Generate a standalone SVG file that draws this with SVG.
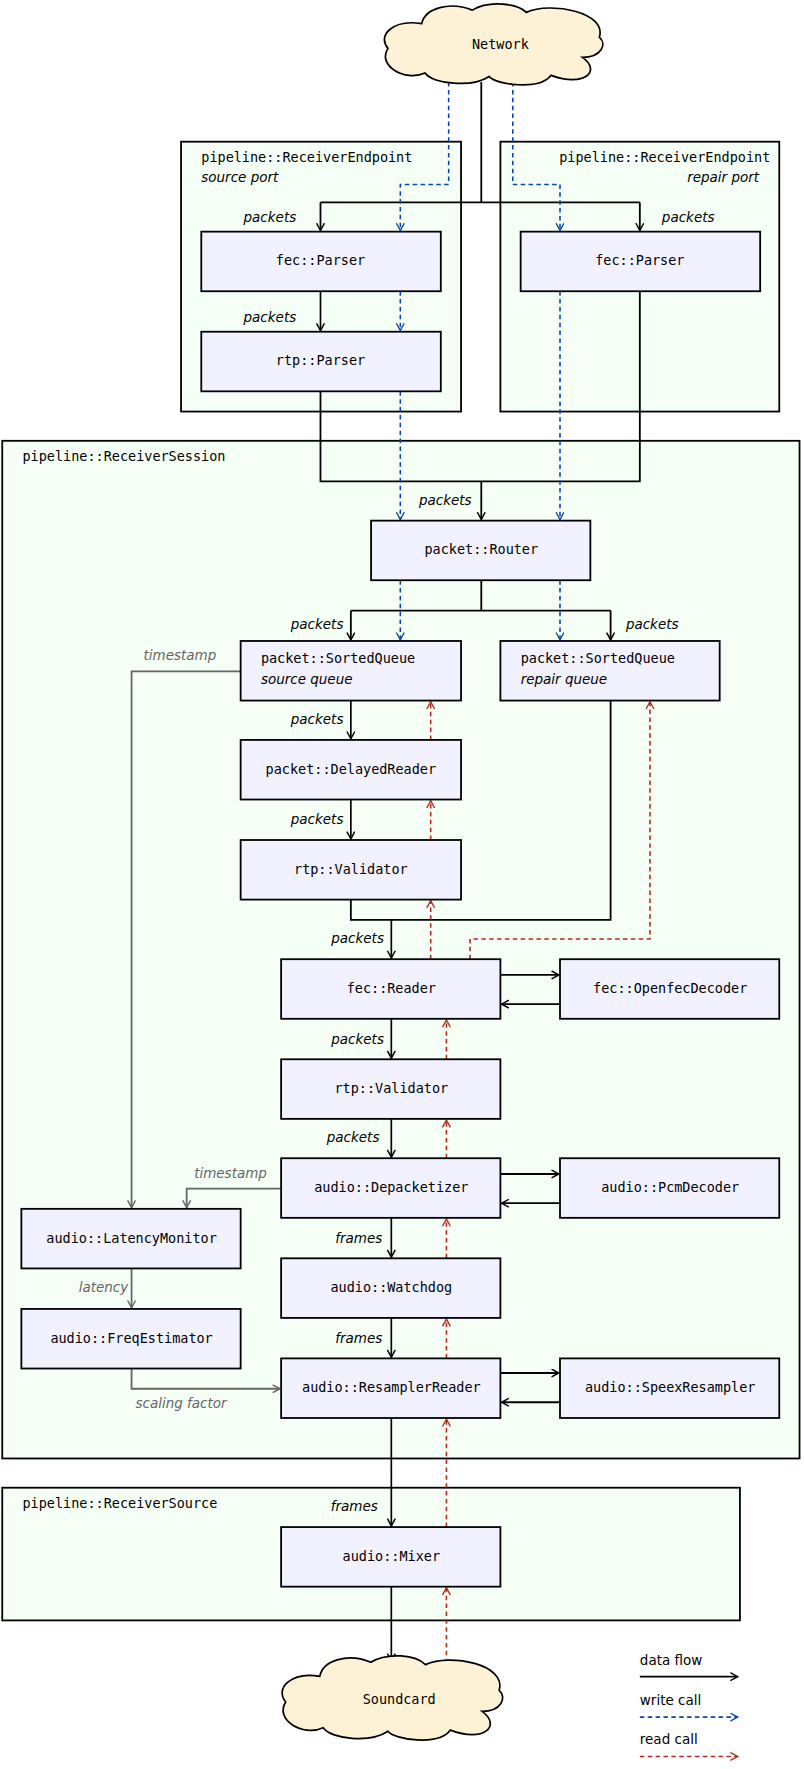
<svg xmlns="http://www.w3.org/2000/svg" width="804" height="1769" viewBox="0 0 804 1769">
<style>
.bg{fill:#fff}
.ct{fill:#f6fff6;stroke:#000;stroke-width:1.6}
.nd{fill:#f1f1ff;stroke:#000;stroke-width:1.6}
.cl{fill:#fdf2d6;stroke:#000;stroke-width:1.5}
.t{font-family:"DejaVu Sans Mono",monospace;font-size:12px;fill:#000}
.tc{text-anchor:middle}
.i{font-family:"DejaVu Sans",sans-serif;font-style:italic;font-size:12px;fill:#000}
.g{fill:#666}
.lg{font-family:"DejaVu Sans",sans-serif;font-size:12px;fill:#000}
.df{fill:none;stroke:#000;stroke-width:1.5}
.df2{fill:none;stroke:#000;stroke-width:1.6}
.gr{fill:none;stroke:#666;stroke-width:1.6}
.wc{fill:none;stroke:#0a47a6;stroke-width:1.4;stroke-dasharray:4,3}
.rc{fill:none;stroke:#b22a1c;stroke-width:1.4;stroke-dasharray:4,3}
</style>
<defs>
<marker id="ab" markerWidth="10" markerHeight="10" refX="7" refY="4" orient="auto" markerUnits="userSpaceOnUse"><path d="M0.5,0.5 L7,4 L0.5,7.5" fill="none" stroke="#000" stroke-width="1.3"/></marker>
<marker id="ag" markerWidth="10" markerHeight="10" refX="7" refY="4" orient="auto" markerUnits="userSpaceOnUse"><path d="M0.5,0.5 L7,4 L0.5,7.5" fill="none" stroke="#666" stroke-width="1.3"/></marker>
<marker id="aw" markerWidth="10" markerHeight="10" refX="7" refY="4" orient="auto" markerUnits="userSpaceOnUse"><path d="M0.5,0.5 L7,4 L0.5,7.5" fill="none" stroke="#0a47a6" stroke-width="1.2"/></marker>
<marker id="ar" markerWidth="10" markerHeight="10" refX="7" refY="4" orient="auto" markerUnits="userSpaceOnUse"><path d="M0.5,0.5 L7,4 L0.5,7.5" fill="none" stroke="#b22a1c" stroke-width="1.2"/></marker>
<path id="cloud" d="M38,62 C20,70 -5,55 5,40 C-5,28 10,14 35,18 C38,4 60,-2 80,6 C95,-3 120,0 128,8 C150,-2 200,8 193,30 C200,36 195,48 178,48 C195,60 180,75 150,64 C140,78 100,72 95,65 C80,75 45,72 38,62 Z"/>
</defs>
<rect class="bg" width="804" height="1769"/>
<g transform="scale(1.1245)">
<g id="containers">
<rect class="ct" x="161" y="126" width="249" height="240"/>
<text class="t" x="179" y="144">pipeline::ReceiverEndpoint</text>
<text class="i" x="179" y="162">source port</text>
<rect class="ct" x="445" y="126" width="248" height="240"/>
<text class="t" x="685" y="144" text-anchor="end">pipeline::ReceiverEndpoint</text>
<text class="i" x="675" y="162" text-anchor="end">repair port</text>
<rect class="ct" x="2" y="392" width="709" height="905"/>
<text class="t" x="20" y="410">pipeline::ReceiverSession</text>
<rect class="ct" x="2" y="1323" width="656" height="118"/>
<text class="t" x="20" y="1341">pipeline::ReceiverSource</text>
</g>
<g id="connectors">
<path class="df2" d="M428,73 V180 M285,180 H569"/>
<path class="df2" d="M285,180 V205" marker-end="url(#ab)"/>
<path class="df2" d="M569,180 V205" marker-end="url(#ab)"/>
<path class="wc" d="M399,73 V164 H356 V205" marker-end="url(#aw)"/>
<path class="wc" d="M456,73 V164 H498 V205" marker-end="url(#aw)"/>
<path class="df" d="M285,259 V294" marker-end="url(#ab)"/>
<path class="wc" d="M356,259 V294" marker-end="url(#aw)"/>
<path class="df2" d="M285,348 V428 H569 V259"/>
<path class="df2" d="M428,428 V462" marker-end="url(#ab)"/>
<path class="wc" d="M356,348 V462" marker-end="url(#aw)"/>
<path class="wc" d="M498,259 V462" marker-end="url(#aw)"/>
<path class="df2" d="M428,516 V543 M312,543 H543"/>
<path class="df2" d="M312,543 V569" marker-end="url(#ab)"/>
<path class="df2" d="M543,543 V569" marker-end="url(#ab)"/>
<path class="wc" d="M356,516 V569" marker-end="url(#aw)"/>
<path class="wc" d="M498,516 V569" marker-end="url(#aw)"/>
<path class="df" d="M312,623 V657" marker-end="url(#ab)"/>
<path class="df" d="M312,711 V746" marker-end="url(#ab)"/>
<path class="rc" d="M383,658 V624" marker-end="url(#ar)"/>
<path class="rc" d="M383,747 V712" marker-end="url(#ar)"/>
<path class="df2" d="M312,800 V818 H543 V623"/>
<path class="df" d="M348,818 V852" marker-end="url(#ab)"/>
<path class="rc" d="M383,853 V801" marker-end="url(#ar)"/>
<path class="rc" d="M418,853 V835 H578 V624" marker-end="url(#ar)"/>
<path class="df2" d="M445,867 H497" marker-end="url(#ab)"/>
<path class="df2" d="M498,893 H446" marker-end="url(#ab)"/>
<path class="df" d="M348,906 V941" marker-end="url(#ab)"/>
<path class="rc" d="M397,942 V907" marker-end="url(#ar)"/>
<path class="df" d="M348,995 V1029" marker-end="url(#ab)"/>
<path class="rc" d="M397,1030 V996" marker-end="url(#ar)"/>
<path class="df2" d="M445,1044 H497" marker-end="url(#ab)"/>
<path class="df2" d="M498,1070 H446" marker-end="url(#ab)"/>
<path class="gr" d="M214,597 H117 V1074" marker-end="url(#ag)"/>
<path class="gr" d="M250,1057 H166 V1074" marker-end="url(#ag)"/>
<path class="df" d="M348,1083 V1118" marker-end="url(#ab)"/>
<path class="rc" d="M397,1119 V1084" marker-end="url(#ar)"/>
<path class="gr" d="M117,1128 V1163" marker-end="url(#ag)"/>
<path class="df" d="M348,1172 V1207" marker-end="url(#ab)"/>
<path class="rc" d="M397,1208 V1173" marker-end="url(#ar)"/>
<path class="df2" d="M445,1221 H497" marker-end="url(#ab)"/>
<path class="df2" d="M498,1247 H446" marker-end="url(#ab)"/>
<path class="gr" d="M117,1217 V1235 H249" marker-end="url(#ag)"/>
<path class="df" d="M348,1261 V1357" marker-end="url(#ab)"/>
<path class="rc" d="M397,1358 V1262" marker-end="url(#ar)"/>
<path class="df" d="M348,1411 V1477" marker-end="url(#ab)"/>
<path class="rc" d="M397,1486 V1412" marker-end="url(#ar)"/>
</g>
<g id="labels">
<text class="i" x="240" y="197" text-anchor="middle">packets</text>
<text class="i" x="612" y="197" text-anchor="middle">packets</text>
<text class="i" x="240" y="286" text-anchor="middle">packets</text>
<text class="i" x="396" y="449" text-anchor="middle">packets</text>
<text class="i" x="282" y="559" text-anchor="middle">packets</text>
<text class="i" x="580" y="559" text-anchor="middle">packets</text>
<text class="i" x="282" y="644" text-anchor="middle">packets</text>
<text class="i" x="282" y="733" text-anchor="middle">packets</text>
<text class="i" x="318" y="839" text-anchor="middle">packets</text>
<text class="i" x="318" y="928" text-anchor="middle">packets</text>
<text class="i" x="314" y="1016" text-anchor="middle">packets</text>
<text class="i" x="319" y="1105" text-anchor="middle">frames</text>
<text class="i" x="319" y="1194" text-anchor="middle">frames</text>
<text class="i" x="315" y="1344" text-anchor="middle">frames</text>
<text class="i g" x="160" y="587" text-anchor="middle">timestamp</text>
<text class="i g" x="205" y="1048" text-anchor="middle">timestamp</text>
<text class="i g" x="92" y="1149" text-anchor="middle">latency</text>
<text class="i g" x="161" y="1252" text-anchor="middle">scaling factor</text>
</g>
<g id="network"><use href="#cloud" class="cl" transform="translate(340,3)"/><text class="t tc" x="445" y="44">Network</text></g>
<g id="soundcard"><use href="#cloud" class="cl" transform="translate(249,1472) scale(1.01,1.04)"/><text class="t tc" x="355" y="1515">Soundcard</text></g>
<g id="src-fec-parser"><rect class="nd" x="179" y="206" width="213" height="53"/><text class="t tc" x="285" y="236">fec::Parser</text></g>
<g id="src-rtp-parser"><rect class="nd" x="179" y="295" width="213" height="53"/><text class="t tc" x="285" y="325">rtp::Parser</text></g>
<g id="rep-fec-parser"><rect class="nd" x="463" y="206" width="213" height="53"/><text class="t tc" x="569" y="236">fec::Parser</text></g>
<g id="router"><rect class="nd" x="330" y="463" width="195" height="53"/><text class="t tc" x="428" y="493">packet::Router</text></g>
<g id="src-queue"><rect class="nd" x="214" y="570" width="196" height="53"/><text class="t" x="232" y="590">packet::SortedQueue</text><text class="i" x="232" y="608">source queue</text></g>
<g id="rep-queue"><rect class="nd" x="445" y="570" width="195" height="53"/><text class="t" x="463" y="590">packet::SortedQueue</text><text class="i" x="463" y="608">repair queue</text></g>
<g id="delayed-reader"><rect class="nd" x="214" y="658" width="196" height="53"/><text class="t tc" x="312" y="688">packet::DelayedReader</text></g>
<g id="rtp-validator1"><rect class="nd" x="214" y="747" width="196" height="53"/><text class="t tc" x="312" y="777">rtp::Validator</text></g>
<g id="fec-reader"><rect class="nd" x="250" y="853" width="195" height="53"/><text class="t tc" x="348" y="883">fec::Reader</text></g>
<g id="openfec"><rect class="nd" x="498" y="853" width="195" height="53"/><text class="t tc" x="596" y="883">fec::OpenfecDecoder</text></g>
<g id="rtp-validator2"><rect class="nd" x="250" y="942" width="195" height="53"/><text class="t tc" x="348" y="972">rtp::Validator</text></g>
<g id="depacketizer"><rect class="nd" x="250" y="1030" width="195" height="53"/><text class="t tc" x="348" y="1060">audio::Depacketizer</text></g>
<g id="pcm"><rect class="nd" x="498" y="1030" width="195" height="53"/><text class="t tc" x="596" y="1060">audio::PcmDecoder</text></g>
<g id="latency-monitor"><rect class="nd" x="19" y="1075" width="195" height="53"/><text class="t tc" x="117" y="1105">audio::LatencyMonitor</text></g>
<g id="watchdog"><rect class="nd" x="250" y="1119" width="195" height="53"/><text class="t tc" x="348" y="1149">audio::Watchdog</text></g>
<g id="freq-estimator"><rect class="nd" x="19" y="1164" width="195" height="53"/><text class="t tc" x="117" y="1194">audio::FreqEstimator</text></g>
<g id="resampler-reader"><rect class="nd" x="250" y="1208" width="195" height="53"/><text class="t tc" x="348" y="1238">audio::ResamplerReader</text></g>
<g id="speex"><rect class="nd" x="498" y="1208" width="195" height="53"/><text class="t tc" x="596" y="1238">audio::SpeexResampler</text></g>
<g id="mixer"><rect class="nd" x="250" y="1358" width="195" height="53"/><text class="t tc" x="348" y="1388">audio::Mixer</text></g>
<g id="legend">
<text class="lg" x="569" y="1481">data flow</text>
<path class="df2" d="M569,1491 H656" marker-end="url(#ab)"/>
<text class="lg" x="569" y="1516">write call</text>
<path class="wc" d="M569,1527 H656" marker-end="url(#aw)"/>
<text class="lg" x="569" y="1551">read call</text>
<path class="rc" d="M569,1562 H656" marker-end="url(#ar)"/>
</g>
</g>
</svg>
